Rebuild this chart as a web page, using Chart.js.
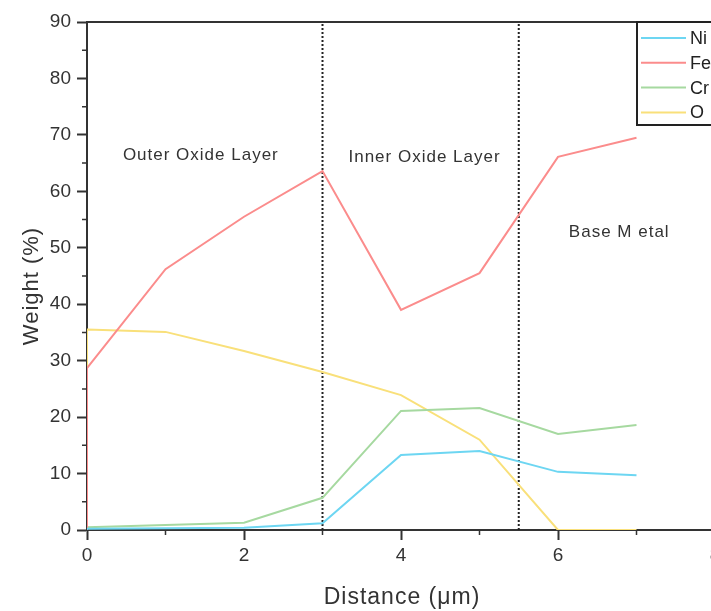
<!DOCTYPE html>
<html>
<head>
<meta charset="utf-8">
<script src="https://cdn.jsdelivr.net/npm/chart.js@4.4.0/dist/chart.umd.min.js"></script>
<style>
  html, body { margin: 0; padding: 0; background: #fff; overflow: hidden; }
  #wrap { width: 800px; height: 611px; }
</style>
</head>
<body>
<div id="wrap"><canvas id="myChart"></canvas></div>
<script>
// distance (um) for each measured point
var xFeO = [0, 0, 1, 2, 3, 4, 5, 6, 7];
var xNiCr = [0, 1, 2, 3, 4, 5, 6, 7];

var niValues = [0.2, 0.3, 0.4, 1.2, 13.3, 14.0, 10.3, 9.7];
var feValues = [0, 28.7, 46.2, 55.5, 63.6, 39.0, 45.5, 66.1, 69.5];
var crValues = [0.5, 0.9, 1.3, 5.7, 21.1, 21.6, 17.0, 18.6];
var oValues = [0, 35.5, 35.1, 31.7, 28.0, 23.9, 16.0, 0, 0];

var boundaries = [3, 5.5];
var layerLabels = ["Outer Oxide Layer", "Inner Oxide Layer", "Base M etal"];

function pts(xs, ys) {
    return xs.map(function (x, i) { return { x: x, y: ys[i] }; });
}

var textColor = "#333";
var fontFam = "'Liberation Sans', Arial, sans-serif";

var extras = {
    id: "extras",
    afterDraw: function (chart) {
        var ctx = chart.ctx;
        var xs = chart.scales.x, ys = chart.scales.y;
        var a = chart.chartArea;
        ctx.save();
        // top frame line
        ctx.strokeStyle = textColor;
        ctx.lineWidth = 2;
        ctx.beginPath();
        ctx.moveTo(a.left, a.top);
        ctx.lineTo(chart.width, a.top);
        ctx.stroke();

        // minor ticks
        ctx.lineWidth = 1.5;
        ctx.beginPath();
        for (var v = 5; v < 90; v += 10) {
            var py = ys.getPixelForValue(v);
            ctx.moveTo(a.left - 5, py);
            ctx.lineTo(a.left, py);
        }
        for (var u = 1; u < 8; u += 2) {
            var px = xs.getPixelForValue(u);
            ctx.moveTo(px, a.bottom);
            ctx.lineTo(px, a.bottom + 5);
        }
        ctx.stroke();

        // layer labels
        ctx.fillStyle = textColor;
        ctx.font = "17px " + fontFam;
        ctx.letterSpacing = "1px";
        ctx.textAlign = "center";
        ctx.textBaseline = "middle";
        ctx.fillText(layerLabels[0], xs.getPixelForValue(1.45), ys.getPixelForValue(66.3));
        ctx.fillText(layerLabels[1], xs.getPixelForValue(4.3), ys.getPixelForValue(66.1));
        ctx.fillText(layerLabels[2], xs.getPixelForValue(6.78), ys.getPixelForValue(52.8));

        // axis titles
        ctx.font = "23px " + fontFam;
        ctx.letterSpacing = "1px";
        ctx.fillText("Distance (\u03bcm)", 402, 598);
        ctx.save();
        ctx.translate(32, 286);
        ctx.rotate(-Math.PI / 2);
        ctx.font = "22px " + fontFam;
        ctx.fillText("Weight (%)", 0, 0);
        ctx.restore();
        ctx.letterSpacing = "0px";

        // legend box
        var lx = 637, ly = a.top, lw = 90, lh = 103;
        ctx.fillStyle = "#fff";
        ctx.fillRect(lx, ly, lw, lh);
        ctx.strokeStyle = "#222";
        ctx.lineWidth = 2;
        ctx.strokeRect(lx, ly, lw, lh);
        ctx.textAlign = "left";
        ctx.font = "18px " + fontFam;
        [0, 1, 2, 3].forEach(function (di, k) {
            var ds = chart.data.datasets[di];
            var yy = ly + 16 + k * 24.8;
            ctx.strokeStyle = ds.borderColor;
            ctx.lineWidth = 2;
            ctx.beginPath();
            ctx.moveTo(lx + 4, yy);
            ctx.lineTo(lx + 49, yy);
            ctx.stroke();
            ctx.fillStyle = "#222";
            ctx.fillText(ds.label, lx + 53, yy + 1);
        });
        ctx.restore();
    }
};

new Chart("myChart", {
    type: "line",
    data: {
        datasets: [{
            label: "Ni",
            data: pts(xNiCr, niValues),
            borderColor: "#6dd6f2",
            borderWidth: 2,
            pointRadius: 0
        }, {
            label: "Fe",
            data: pts(xFeO, feValues),
            borderColor: "#fb8c8c",
            borderWidth: 2,
            pointRadius: 0
        }, {
            label: "Cr",
            data: pts(xNiCr, crValues),
            borderColor: "#a6d9a0",
            borderWidth: 2,
            pointRadius: 0
        }, {
            label: "O",
            data: pts(xFeO, oValues),
            borderColor: "#f9e07a",
            borderWidth: 2,
            pointRadius: 0
        }, {
            label: "b1",
            data: [{ x: boundaries[0], y: 0 }, { x: boundaries[0], y: 90 }],
            borderColor: "#222",
            borderWidth: 2,
            borderDash: [2, 2],
            pointRadius: 0
        }, {
            label: "b2",
            data: [{ x: boundaries[1], y: 0 }, { x: boundaries[1], y: 90 }],
            borderColor: "#222",
            borderWidth: 2,
            borderDash: [2, 2],
            pointRadius: 0
        }]
    },
    options: {
        responsive: true,
        maintainAspectRatio: false,
        animation: false,
        layout: { padding: { top: 22, right: 85, left: 0, bottom: 0 } },
        plugins: {
            legend: { display: false },
            tooltip: { enabled: false }
        },
        scales: {
            x: {
                type: "linear",
                min: 0,
                max: 8,
                afterFit: function (s) { s.height = 81; },
                ticks: {
                    stepSize: 2,
                    color: textColor,
                    font: { size: 19, family: fontFam },
                    padding: 4
                },
                grid: { drawOnChartArea: false, tickLength: 10, tickWidth: 2, tickColor: textColor },
                border: { color: textColor, width: 2 }
            },
            y: {
                min: 0,
                max: 90,
                afterFit: function (s) { s.width = 87; },
                ticks: {
                    stepSize: 10,
                    color: textColor,
                    font: { size: 19, family: fontFam },
                    padding: 6
                },
                grid: { drawOnChartArea: false, tickLength: 10, tickWidth: 2, tickColor: textColor },
                border: { color: textColor, width: 2 }
            }
        }
    },
    plugins: [extras]
});
</script>
</body>
</html>
